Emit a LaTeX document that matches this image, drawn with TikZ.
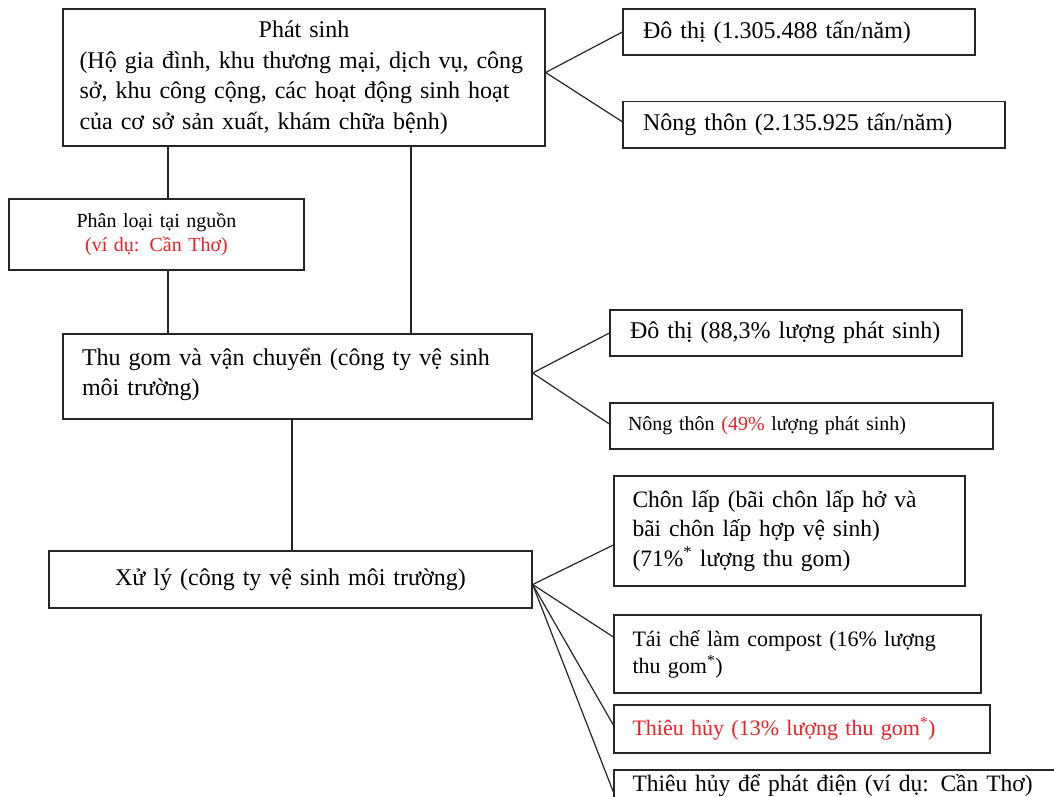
\documentclass[tikz,border=0pt]{standalone}
\usepackage{fontspec}
\setmainfont{Liberation Serif}
\definecolor{myred}{RGB}{235,32,40}
\begin{document}
\begin{tikzpicture}[x=1pt,y=-1pt,
  box/.style={draw=black!85, line width=1.3pt, inner ysep=0pt, align=left},
  big/.style={font=\fontsize{24}{29.5}\selectfont},
  mid/.style={font=\fontsize{22}{27}\selectfont},
  small/.style={font=\fontsize{20}{24}\selectfont},
  link/.style={draw=black!85, line width=1.2pt}]
\useasboundingbox (0,0) rectangle (1054,796);
\begin{scope}
\clip (0,0) rectangle (1054,796);
\fill[white] (0,0) rectangle (1054,796);
% left column
\node[box,font=\fontsize{24}{30.5}\selectfont,inner xsep=16.5pt,text width=449pt,minimum height=137pt] (top) at (304,77.5)
  {\makebox[449pt][c]{Phát sinh}\\\makebox[449pt][s]{(Hộ gia đình, khu thương mại, dịch vụ, công}\\\makebox[449pt][s]{sở, khu công cộng, các hoạt động sinh hoạt}\\của cơ sở sản xuất, khám chữa bệnh)};
\node[box,small,align=center,inner xsep=0pt,text width=295pt,minimum height=71pt] (phan) at (156.5,234.5)
  {Phân loại tại nguồn\\{\color{myred}(ví dụ: Cần Thơ)}};
\node[box,big,inner xsep=19pt,text width=431pt,minimum height=85pt] (thu) at (297.5,376.5)
  {Thu gom và vận chuyển (công ty vệ sinh\\môi trường)\\[-20pt]\mbox{}};
\node[box,big,align=center,inner xsep=0pt,text width=483pt,minimum height=57pt] (xuly) at (290.5,579.5)
  {Xử lý (công ty vệ sinh môi trường)};
% right column
\node[box,big,inner xsep=20pt,text width=312pt,minimum height=46pt] (r1) at (799,32)
  {Đô thị (1.305.488 tấn/năm)};
\node[box,big,inner xsep=20pt,text width=342pt,minimum height=46.5pt] (r2) at (814,124.75)
  {Nông thôn (2.135.925 tấn/năm)};
\node[box,big,inner xsep=20pt,text width=312pt,minimum height=46pt] (r3) at (786,333)
  {Đô thị (88,3\% lượng phát sinh)};
\node[box,small,inner xsep=18pt,text width=347pt,minimum height=46pt] (r4) at (801.5,426)
  {Nông thôn {\color{myred}(49\%} lượng phát sinh)};
\node[box,font=\fontsize{23.5}{29.5}\selectfont,inner xsep=18.5pt,text width=314pt,minimum height=110pt] (r5) at (789.5,531)
  {Chôn lấp (bãi chôn lấp hở và\\bãi chôn lấp hợp vệ sinh)\\(71\%\textsuperscript{*} lượng thu gom)};
\node[box,mid,inner xsep=18.5pt,text width=330pt,minimum height=78pt] (r6) at (797.5,654)
  {Tái chế làm compost (16\% lượng\\thu gom\textsuperscript{*})};
\node[box,mid,inner xsep=18.5pt,text width=339pt,minimum height=48pt,text=myred] (r7) at (802,729)
  {Thiêu hủy (13\% lượng thu gom\textsuperscript{*})};
\node[box,font=\fontsize{23.5}{29}\selectfont,inner xsep=18.5pt,text width=429pt,minimum height=32pt] (r8) at (847,786)
  {Thiêu hủy để phát điện (ví dụ: Cần Thơ)};
% vertical connectors
\coordinate (p1) at ([xshift=11.5pt]phan.north);
\coordinate (p2) at ([xshift=11.5pt]phan.south);
\coordinate (p3) at ([xshift=113.5pt]thu.north);
\coordinate (p4) at ([xshift=1.5pt]xuly.north);
\draw[link] (p1 |- top.south) -- (p1);
\draw[link] (p2) -- (p2 |- thu.north);
\draw[link] (p3 |- top.south) -- (p3);
\draw[link] (p4 |- thu.south) -- (p4);
% fan connectors
\coordinate (a1) at ([yshift=5pt]top.east);
\draw[link] (r1.west) -- (a1) -- ([yshift=3pt]r2.west);
\coordinate (a2) at ([yshift=3.5pt]thu.east);
\draw[link] (r3.west) -- (a2) -- ([yshift=2pt]r4.west);
\coordinate (a3) at ([yshift=-5pt]xuly.east);
\draw[link] (a3) -- ([yshift=-14pt]r5.west);
\draw[link] (a3) -- ([yshift=17pt]r6.west);
\draw[link] (a3) -- ([yshift=4pt]r7.west);
\draw[link] (a3) -- ([yshift=-6pt]r8.west);
\end{scope}
\end{tikzpicture}
\end{document}
